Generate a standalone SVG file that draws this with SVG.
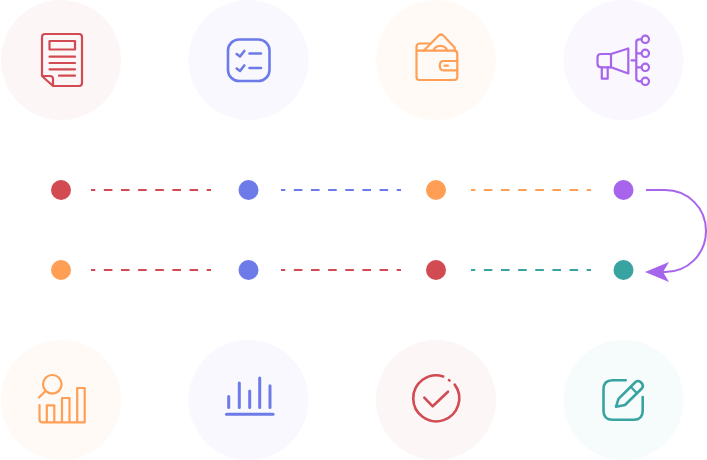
<svg xmlns="http://www.w3.org/2000/svg" width="707" height="460" viewBox="0 0 707 460">
<defs>
<style>
.ic{fill:none;stroke-width:2.200;stroke-linecap:round;stroke-linejoin:round}
.dash{fill:none;stroke-width:2;stroke-dasharray:8.57 8.57;stroke-dashoffset:4.29}
.red{stroke:#D24B53}.blue{stroke:#6C7BE8}.orange{stroke:#FF9F55}.purple{stroke:#A665EC}.teal{stroke:#38A3A0}
.thick{stroke-width:3}.mid{stroke-width:2.600}
</style>
</defs>
<g id="connectors">
<path class="dash red" d="M91 190H211"/>
<path class="dash blue" d="M281 190H401"/>
<path class="dash orange" d="M471 190H591"/>
<path class="dash red" d="M91 270H211"/>
<path class="dash red" d="M281 270H401"/>
<path class="dash teal" d="M471 270H591"/>
<path fill="none" stroke="#A665EC" stroke-width="2" d="M646 190H665C688 190 706 208 706 231C706 254 688 272 665 272H650"/>
<path d="M645 272L669 262L663 272L669 282Z" fill="#A665EC"/>
</g>
<g id="dots">
<g id="dot-1"><circle cx="61" cy="190" r="10" fill="#D24B53"/></g>
<g id="dot-2"><circle cx="248.500" cy="190" r="10" fill="#6C7BE8"/></g>
<g id="dot-3"><circle cx="436" cy="190" r="10" fill="#FF9F55"/></g>
<g id="dot-4"><circle cx="623.500" cy="190" r="10" fill="#A665EC"/></g>
<g id="dot-5"><circle cx="61" cy="270" r="10" fill="#FF9F55"/></g>
<g id="dot-6"><circle cx="248.500" cy="270" r="10" fill="#6C7BE8"/></g>
<g id="dot-7"><circle cx="436" cy="270" r="10" fill="#D24B53"/></g>
<g id="dot-8"><circle cx="623.500" cy="270" r="10" fill="#38A3A0"/></g>
</g>
<g id="node-document">
<circle cx="61" cy="60" r="60" fill="#FCF6F7"/>
<g class="ic red">
<path d="M53 86H79Q82 86 82 83V37Q82 34 79 34H45Q42 34 42 37V76L53 86V79Q53 76 50 76H42"/>
<rect x="49.500" y="41" width="25.500" height="8.500"/>
<path d="M49.500 56.700H75M49.500 63H75M49.500 69.300H75M59 75.700H75"/>
</g>
</g>
<g id="node-checklist">
<circle cx="248.500" cy="60" r="60" fill="#F9F8FF"/>
<g class="ic blue">
<rect class="mid" x="228" y="39.500" width="41.500" height="41.500" rx="11"/>
<path class="mid" d="M236.700 54L240 56.500L244.300 51M236.700 68.500L240 71L244.300 65.500M249.500 53.500H261M249.500 68H261"/>
</g>
</g>
<g id="node-wallet">
<circle cx="436" cy="60" r="60" fill="#FFFAF6"/>
<g class="ic orange">
<path d="M416.500 50.700V77Q416.500 80 419.500 80H454.300Q457.300 80 457.300 77V54Q457.300 50.700 454.300 50.700H416.500V47Q416.500 43.500 420 43.500H429.500"/>
<path d="M423.700 50.700L439 35.300Q441 33.700 443 35.300L454.700 47.500V50.700"/>
<path d="M433.700 50.700A6.700 5.500 0 0 1 447 50.700"/>
<path d="M457.300 61H443.500Q439.800 61 439.800 65.700Q439.800 70.300 443.500 70.300H457.300"/>
<path d="M444.500 65.700H448"/>
</g>
</g>
<g id="node-megaphone">
<circle cx="623.500" cy="60" r="60" fill="#FAF7FF"/>
<g class="ic purple">
<path d="M611 54H601Q597.500 54 597.500 57.500V63.800Q597.500 67.300 601 67.300H611Z"/>
<path d="M611 54L628.300 48.500V73.500L611 67.300"/>
<path d="M601.800 67.300V78.700H607.700V67.300"/>
<path d="M631.500 60.300H636.300M641.500 39.300H639.300Q636.300 39.300 636.300 42.300V78.300Q636.300 81.300 639.300 81.300H641.500M636.300 53.300H641.500M636.300 67.300H641.500"/>
<circle cx="645.300" cy="39.300" r="3.700"/><circle cx="645.300" cy="53.300" r="3.700"/><circle cx="645.300" cy="67.300" r="3.700"/><circle cx="645.300" cy="81.300" r="3.700"/>
</g>
</g>
<g id="node-analytics">
<circle cx="61" cy="400" r="60" fill="#FFFAF6"/>
<g class="ic orange">
<circle cx="52.300" cy="384.300" r="9.300"/>
<path d="M45 391.500L39 397.500"/>
<path d="M39.500 405V419.500Q39.500 422.300 42.500 422.300H84.700V388H77.200V422.300M69.500 422.300V398H62V422.300M54.300 422.300V405.300H46.800V422.300"/>
</g>
</g>
<g id="node-bars">
<circle cx="248.500" cy="400" r="60" fill="#F9F8FF"/>
<g class="ic blue">
<path class="thick" d="M228.700 396.500V407.500M239.300 383V407.500M249.700 391V407.500M259.700 378V407.500M270 385.800V407.500"/>
<path class="thick" d="M226.500 414.300H273"/>
</g>
</g>
<g id="node-check">
<circle cx="436" cy="400" r="60" fill="#FCF6F7"/>
<g class="ic red">
<path class="mid" d="M443.200 376.400A23 23 0 1 0 454.700 384.600"/>
<path class="mid" d="M449 380.200L449.500 380.500"/>
<path class="mid" d="M424.300 397.700L432.700 406.300L448 391.700"/>
</g>
</g>
<g id="node-edit">
<circle cx="623.500" cy="400" r="60" fill="#F6FBFB"/>
<g class="ic teal">
<path class="mid" d="M625.700 380.300H612.500Q603.500 380.300 603.500 389.300V410.700Q603.500 419.700 612.500 419.700H633.700Q642.700 419.700 642.700 410.700V397"/>
<path class="mid" d="M616 406.800L618.500 398.800L635.500 382Q638 380 640.500 382L642 383.500Q643.800 386 642 388.300L625 405Z"/>
<path d="M630.700 386.700L637 393.300"/>
</g>
</g>
</svg>
